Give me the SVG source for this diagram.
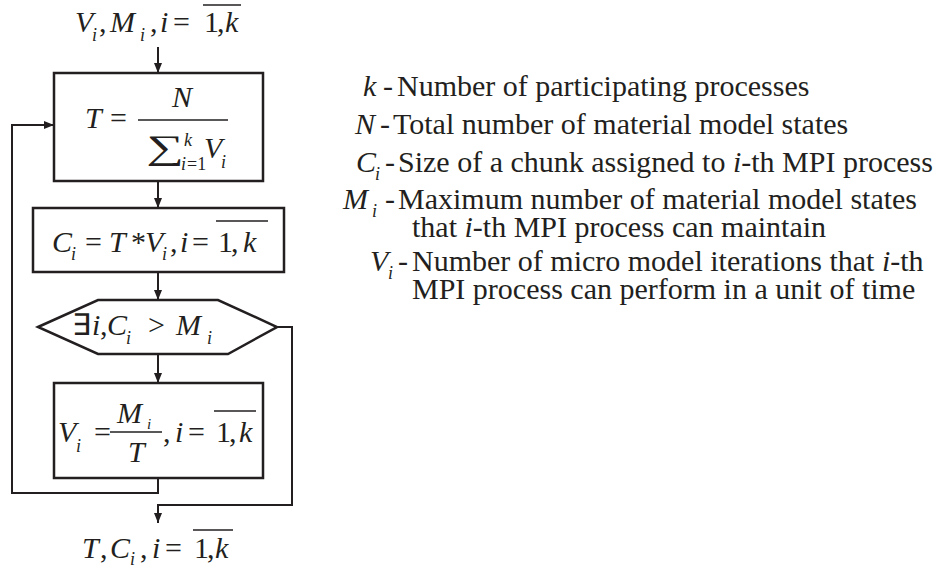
<svg xmlns="http://www.w3.org/2000/svg" width="936" height="570" viewBox="0 0 936 570">
<style>
.box{fill:#fff;stroke:#231f20;stroke-width:2.5}
.ln{fill:none;stroke:#231f20;stroke-width:2}
.ov{stroke:#231f20;stroke-width:1.6}
</style>
<defs>
<marker id="ah" viewBox="0 0 10 10" refX="10" refY="5" markerWidth="10" markerHeight="10" markerUnits="userSpaceOnUse" orient="auto">
<path d="M0,1 L10,5 L0,9 Z" fill="#231f20"/>
</marker>
</defs>

<g id="connectors">
<line class="ln" x1="158" y1="47" x2="158" y2="73" marker-end="url(#ah)"/>
<line class="ln" x1="158" y1="181" x2="158" y2="208" marker-end="url(#ah)"/>
<line class="ln" x1="158" y1="272" x2="158" y2="300" marker-end="url(#ah)"/>
<line class="ln" x1="158" y1="354" x2="158" y2="383" marker-end="url(#ah)"/>
<polyline class="ln" points="158,478 158,493 12,493 12,125 54,125" marker-end="url(#ah)"/>
<polyline class="ln" points="277,327 292,327 292,505 158,505 158,523" marker-end="url(#ah)"/>
</g>

<g id="input">
<text font-family="Liberation Serif" font-size="30" font-style="italic" fill="#231f20"><tspan x="75" y="32">V</tspan><tspan font-size="18" x="92" y="41">i</tspan><tspan font-style="normal" x="99" y="32">,</tspan><tspan x="110" y="32">M</tspan><tspan font-size="18" x="140" y="41">i</tspan><tspan font-style="normal" x="150" y="32">,</tspan><tspan x="160" y="32">i</tspan><tspan font-style="normal" x="173" y="32">=</tspan><tspan font-style="normal" x="204" y="32">1</tspan><tspan font-style="normal" x="217" y="32">,</tspan><tspan x="225" y="32">k</tspan></text>
<line class="ov" x1="203" y1="5" x2="241" y2="5"/>
</g>

<g id="computeT">
<rect class="box" x="54" y="73" width="209" height="108"/>
<text font-family="Liberation Serif" font-size="30" font-style="italic" fill="#231f20"><tspan x="85" y="128">T</tspan><tspan font-style="normal" x="110" y="128">=</tspan><tspan x="172" y="107">N</tspan></text>
<line class="ov" x1="138" y1="120" x2="228" y2="120"/>
<text font-family="Liberation Serif" font-size="34" fill="#231f20" transform="translate(146,159) scale(1.55,1)">∑</text>
<text font-family="Liberation Serif" font-size="30" font-style="italic" fill="#231f20"><tspan font-size="18" x="184" y="146">k</tspan><tspan font-size="18" x="181" y="170">i</tspan><tspan font-size="18" font-style="normal" x="187" y="170">=1</tspan><tspan x="204" y="158">V</tspan><tspan font-size="18" x="221" y="168">i</tspan></text>
</g>

<g id="computeC">
<rect class="box" x="33" y="208" width="251" height="64"/>
<text font-family="Liberation Serif" font-size="30" font-style="italic" fill="#231f20"><tspan x="52" y="252">C</tspan><tspan font-size="18" x="71" y="260">i</tspan><tspan font-style="normal" x="85" y="252">=</tspan><tspan x="109" y="252">T</tspan><tspan font-style="normal" x="131" y="252">*</tspan><tspan x="145" y="252">V</tspan><tspan font-size="18" x="162" y="260">i</tspan><tspan font-style="normal" x="170" y="252">,</tspan><tspan x="180" y="252">i</tspan><tspan font-style="normal" x="192" y="252">=</tspan><tspan font-style="normal" x="218" y="252">1</tspan><tspan font-style="normal" x="231" y="252">,</tspan><tspan x="243" y="252">k</tspan></text>
<line class="ov" x1="216" y1="221" x2="268" y2="221"/>
</g>

<g id="decision">
<polygon class="box" points="38,327 98,300 218,300 277,327 228,354 98,354"/>
<text font-family="Liberation Serif" font-size="30" font-style="italic" fill="#231f20"><tspan font-style="normal" x="72" y="335">∃</tspan><tspan x="92" y="335">i</tspan><tspan font-style="normal" x="100" y="335">,</tspan><tspan x="107" y="335">C</tspan><tspan font-size="18" x="126" y="344">i</tspan><tspan font-style="normal" x="148" y="335">&gt;</tspan><tspan x="176" y="335">M</tspan><tspan font-size="18" x="207" y="344">i</tspan></text>
</g>

<g id="recomputeV">
<rect class="box" x="54" y="383" width="209" height="95"/>
<text font-family="Liberation Serif" font-size="30" font-style="italic" fill="#231f20"><tspan x="58" y="442">V</tspan><tspan font-size="18" x="76" y="452">i</tspan><tspan font-style="normal" x="94" y="442">=</tspan><tspan x="117" y="423">M</tspan><tspan font-size="15" x="147" y="429">i</tspan><tspan x="128" y="462">T</tspan><tspan font-style="normal" x="163" y="442">,</tspan><tspan x="175" y="442">i</tspan><tspan font-style="normal" x="188" y="442">=</tspan><tspan font-style="normal" x="216" y="442">1</tspan><tspan font-style="normal" x="229" y="442">,</tspan><tspan x="239" y="442">k</tspan></text>
<line class="ov" x1="110" y1="432" x2="162" y2="432"/>
<line class="ov" x1="214" y1="411" x2="256" y2="411"/>
</g>

<g id="output">
<text font-family="Liberation Serif" font-size="30" font-style="italic" fill="#231f20"><tspan x="82" y="558">T</tspan><tspan font-style="normal" x="100" y="558">,</tspan><tspan x="110" y="558">C</tspan><tspan font-size="18" x="130" y="565">i</tspan><tspan font-style="normal" x="140" y="558">,</tspan><tspan x="152" y="558">i</tspan><tspan font-style="normal" x="165" y="558">=</tspan><tspan font-style="normal" x="194" y="558">1</tspan><tspan font-style="normal" x="207" y="558">,</tspan><tspan x="215" y="558">k</tspan></text>
<line class="ov" x1="193" y1="530" x2="233" y2="530"/>
</g>

<g id="legend">
<text font-family="Liberation Serif" font-size="30" fill="#231f20"><tspan font-style="italic" x="363" y="96">k</tspan><tspan x="383" y="96">-</tspan><tspan x="397" y="96">Number of participating processes</tspan></text>
<text font-family="Liberation Serif" font-size="30" fill="#231f20"><tspan font-style="italic" x="355" y="134">N</tspan><tspan x="380" y="134">-</tspan><tspan x="393" y="134">Total number of material model states</tspan></text>
<text font-family="Liberation Serif" font-size="30" fill="#231f20"><tspan font-style="italic" x="356" y="172">C</tspan><tspan font-style="italic" font-size="18" x="375" y="180">i</tspan><tspan x="385" y="172">-</tspan><tspan x="398" y="172">Size of a chunk assigned to </tspan><tspan font-style="italic">i</tspan><tspan>-th MPI process</tspan></text>
<text font-family="Liberation Serif" font-size="30" fill="#231f20"><tspan font-style="italic" x="343" y="209">M</tspan><tspan font-style="italic" font-size="18" x="372" y="217">i</tspan><tspan x="385" y="209">-</tspan><tspan x="398" y="209">Maximum number of material model states</tspan><tspan x="412" y="237">that </tspan><tspan font-style="italic">i</tspan><tspan>-th MPI process can maintain</tspan></text>
<text font-family="Liberation Serif" font-size="30" fill="#231f20"><tspan font-style="italic" x="370" y="271">V</tspan><tspan font-style="italic" font-size="18" x="388" y="279">i</tspan><tspan x="398" y="271">-</tspan><tspan x="412" y="271">Number of micro model iterations that </tspan><tspan font-style="italic">i</tspan><tspan>-th</tspan><tspan x="412" y="299">MPI process can perform in a unit of time</tspan></text>
</g>
</svg>
